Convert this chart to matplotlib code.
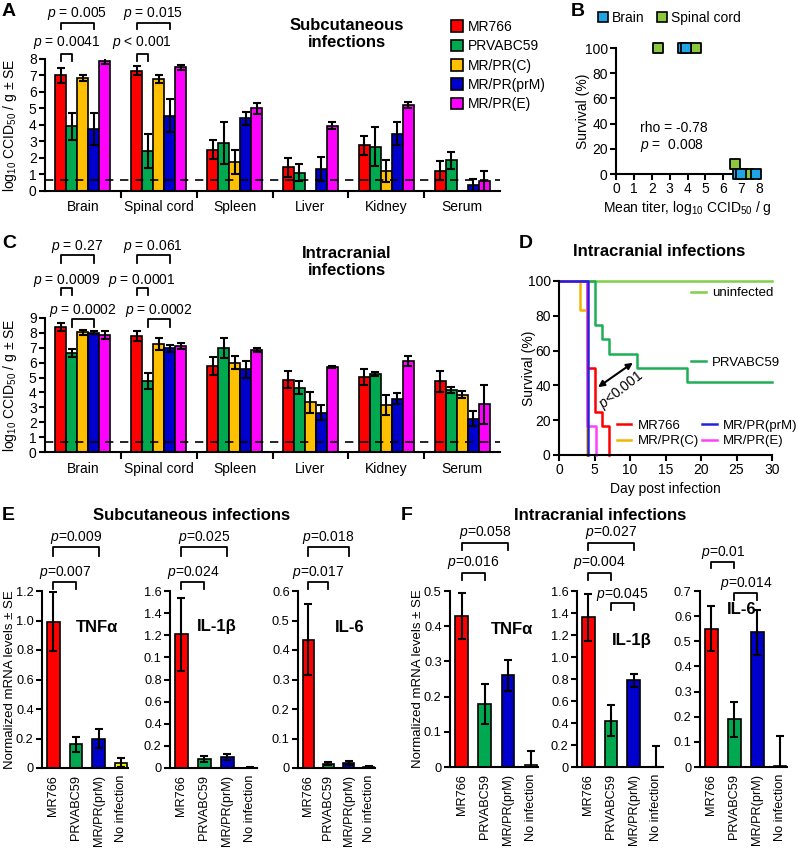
import numpy as np
import matplotlib
matplotlib.use('Agg')
import matplotlib.pyplot as plt
import matplotlib.transforms as mtransforms
from matplotlib.patches import Patch
from matplotlib.lines import Line2D
from matplotlib.legend import Legend

plt.rcParams['font.family'] = ['Liberation Sans', 'DejaVu Sans']
plt.rcParams['mathtext.fontset'] = 'custom'
plt.rcParams['mathtext.rm'] = 'Liberation Sans'
plt.rcParams['mathtext.it'] = 'Liberation Sans:italic'
plt.rcParams['mathtext.bf'] = 'Liberation Sans:bold'
plt.rcParams['mathtext.default'] = 'regular'
plt.rcParams['axes.linewidth'] = 1.5

# ---- data ----
organs = ['Brain', 'Spinal cord', 'Spleen', 'Liver', 'Kidney', 'Serum']
viruses = ['MR766', 'PRVABC59', 'MR/PR(C)', 'MR/PR(prM)', 'MR/PR(E)']
virus_colors = ['#ff0000', '#00a94f', '#ffc000', '#0000cc', '#ff00ff']

# subcutaneous titers (rows: viruses, cols: organs)
sc_mean = [[7.0, 7.3, 2.5, 1.42, 2.76, 1.22],
           [3.9, 2.4, 2.9, 1.1, 2.68, 1.84],
           [6.85, 6.8, 1.75, 0.0, 1.18, 0.0],
           [3.75, 4.55, 4.4, 1.34, 3.46, 0.35],
           [7.9, 7.5, 5.0, 3.94, 5.22, 0.61]]
sc_err = [[0.45, 0.3, 0.6, 0.59, 0.57, 0.6],
          [0.85, 1.05, 1.3, 0.53, 1.18, 0.5],
          [0.2, 0.25, 0.75, 0.0, 0.67, 0.0],
          [0.95, 1.0, 0.4, 0.73, 0.71, 0.35],
          [0.2, 0.15, 0.35, 0.21, 0.17, 0.6]]

# intracranial titers
ic_mean = [[8.35, 7.77, 5.77, 4.86, 5.04, 4.75],
           [6.61, 4.77, 6.95, 4.33, 5.22, 4.15],
           [8.02, 7.24, 5.99, 3.34, 3.17, 3.85],
           [8.0, 6.95, 5.55, 2.65, 3.59, 2.25],
           [7.84, 7.1, 6.84, 5.69, 6.11, 3.2]]
ic_err = [[0.27, 0.33, 0.58, 0.56, 0.55, 0.7],
          [0.27, 0.51, 0.67, 0.44, 0.12, 0.2],
          [0.15, 0.38, 0.45, 0.69, 0.67, 0.25],
          [0.1, 0.22, 0.57, 0.5, 0.35, 0.5],
          [0.26, 0.18, 0.13, 0.06, 0.33, 1.3]]
detection_limit = 0.67

# panel B: titer vs survival
brain_titer = [3.75, 3.9, 6.85, 7.0, 7.85]
brain_surv = [100, 100, 0, 0, 0]
spinal_titer = [2.35, 4.45, 6.65, 7.1, 7.4]
spinal_surv = [100, 100, 8, 0, 0]

# panel D: survival curves
km_uninf_t, km_uninf_s = [0, 30], [100, 100]
km_prv_t = [0, 5, 6, 7, 11, 18, 30]
km_prv_s = [100, 75, 66.7, 58.3, 50, 41.7, 41.7]
km_mr766_t = [0, 4, 5, 6, 7]
km_mr766_s = [100, 50, 25, 16.7, 0]
km_c_t, km_c_s = [0, 3, 3.9], [100, 83.3, 0]
km_e_t, km_e_s = [0, 4.0, 5.2], [100, 16.7, 0]
km_prm_t, km_prm_s = [0, 4.1], [100, 0]

# panels E/F: cytokines
cyto_groups = ['MR766', 'PRVABC59', 'MR/PR(prM)', 'No infection']
cyto_colors = ['#ff0000', '#00a94f', '#0000cc', '#f0f000']
sc_tnf, sc_tnf_err = [0.99, 0.16, 0.2, 0.035], [0.2, 0.05, 0.065, 0.03]
sc_il1b, sc_il1b_err = [1.21, 0.08, 0.1, 0.004], [0.33, 0.03, 0.03, 0.003]
sc_il6, sc_il6_err = [0.435, 0.015, 0.017, 0.004], [0.12, 0.006, 0.008, 0.003]
ic_tnf, ic_tnf_err = [0.43, 0.18, 0.26, 0.005], [0.065, 0.057, 0.045, 0.04]
ic_il1b, ic_il1b_err = [1.36, 0.42, 0.79, 0.0], [0.21, 0.14, 0.06, 0.19]
ic_il6, ic_il6_err = [0.55, 0.19, 0.535, 0.005], [0.09, 0.07, 0.09, 0.12]

W, H = 798, 849
fig = plt.figure(figsize=(W / 100, H / 100), dpi=100)


def add_ax(l, t, r, b):
    return fig.add_axes([l / W, 1 - b / H, (r - l) / W, (b - t) / H])


def ftext(x, y, s, **kw):
    kw.setdefault('ha', 'center')
    kw.setdefault('va', 'center')
    fig.text(x / W, 1 - y / H, s, **kw)


def clean(ax, size=10):
    ax.spines['top'].set_visible(False)
    ax.spines['right'].set_visible(False)
    ax.tick_params(width=1.5, length=4, labelsize=size, pad=2)


def bracket(ax, x1, x2, ytop, yleg, label, ytext, trans=None):
    tr = trans if trans is not None else ax.transData
    ax.plot([x1, x1, x2, x2], [yleg, ytop, ytop, yleg], color='black',
            lw=1.3, transform=tr, clip_on=False)
    ax.text((x1 + x2) / 2, ytext, label, transform=tr, ha='center',
            va='center', fontsize=10, clip_on=False)


w = 0.145


def organ_panel(ax, means, errs, ymax):
    x = np.arange(len(organs))
    for i, (m, e, c) in enumerate(zip(means, errs, virus_colors)):
        pos = x + (i - 2) * w
        m = np.array(m)
        e = np.array(e)
        ax.bar(pos, m, w, color=c, edgecolor='black', linewidth=1.2, zorder=2)
        k = e > 0
        ax.errorbar(pos[k], m[k], yerr=e[k], fmt='none', ecolor='black',
                    elinewidth=1.5, capsize=3, capthick=1.5, zorder=3)
    ax.axhline(detection_limit, color='black', ls=(0, (5, 4)), lw=1.2, zorder=4)
    ax.set_xlim(-0.5, 5.5)
    ax.set_ylim(0, ymax)
    ax.set_yticks(range(ymax + 1))
    ax.set_xticks(x)
    ax.set_xticklabels(organs)
    ax.set_xticks(x[:-1] + 0.5, minor=True)
    clean(ax)
    ax.tick_params(axis='x', which='major', length=0, pad=7)
    ax.tick_params(axis='x', which='minor', length=5, width=1.5)
    ax.set_ylabel('log$_{10}$ CCID$_{50}$ / g ± SE', fontsize=10)
    ax.yaxis.set_label_coords(-0.058, 0.5)


def vpos(organ, virus):
    return organ + (virus - 2) * w


# ---- panel A ----
axA = add_ax(45, 59, 500, 190.7)
organ_panel(axA, sc_mean, sc_err, 8)
bracket(axA, vpos(0, 0), vpos(0, 1), 8.33, 7.85, r'$\mathit{p}$ = 0.0041', 9.0)
bracket(axA, vpos(0, 0), vpos(0, 3), 10.2, 9.85, r'$\mathit{p}$ = 0.005', 10.77)
bracket(axA, vpos(1, 0), vpos(1, 1), 8.33, 7.85, r'$\mathit{p}$ < 0.001', 9.0)
bracket(axA, vpos(1, 0), vpos(1, 3), 10.2, 9.85, r'$\mathit{p}$ = 0.015', 10.77)
ftext(347, 34, 'Subcutaneous\ninfections', fontsize=12, fontweight='bold', linespacing=1.15)
fig.legend(handles=[Patch(facecolor=c, edgecolor='black', lw=1.2) for c in virus_colors],
           labels=viruses, loc='upper left', bbox_to_anchor=(451 / W, 1 - 20 / H),
           frameon=False, fontsize=10, handlelength=0.85, handleheight=0.9,
           handletextpad=0.4, labelspacing=0.38, borderaxespad=0, borderpad=0)

# ---- panel B ----
axB = add_ax(616, 48, 759, 174)
sq = dict(marker='s', s=42, edgecolors='black', linewidths=1.3, clip_on=False, zorder=3)
axB.scatter(spinal_titer, spinal_surv, color='#8dc63f', **sq)
axB.scatter(brain_titer, brain_surv, color='#1fa5e6', **sq)
axB.set_xlim(0, 8)
axB.set_ylim(0, 100)
axB.set_xticks(range(9))
axB.set_yticks(range(0, 101, 20))
clean(axB)
axB.set_xlabel('Mean titer, log$_{10}$ CCID$_{50}$ / g', fontsize=10)
axB.set_ylabel('Survival (%)', fontsize=10)
axB.yaxis.set_label_coords(-0.18, 0.5)
axB.xaxis.set_label_coords(0.5, -0.2)
ftext(640, 128, 'rho = -0.78', fontsize=10, ha='left')
ftext(640, 145, r'$\mathit{p}$ =  0.008', fontsize=10, ha='left')
bleg = [Line2D([], [], marker='s', ls='none', markersize=7, markerfacecolor=c,
               markeredgecolor='black', markeredgewidth=1.2) for c in ['#1fa5e6', '#8dc63f']]
fig.legend(handles=bleg, labels=['Brain', 'Spinal cord'], ncol=2, loc='center left',
           bbox_to_anchor=(597 / W, 1 - 18 / H), frameon=False, fontsize=10,
           handlelength=0.8, handletextpad=0.3, columnspacing=0.8, borderpad=0,
           borderaxespad=0)

# ---- panel C ----
axC = add_ax(45, 317.7, 500, 452.3)
organ_panel(axC, ic_mean, ic_err, 9)
bracket(axC, vpos(0, 0), vpos(0, 3), 13.18, 12.64, r'$\mathit{p}$ = 0.27', 13.75)
bracket(axC, vpos(0, 0), vpos(0, 1), 10.97, 10.5, r'$\mathit{p}$ = 0.0009', 11.5)
bracket(axC, vpos(0, 1), vpos(0, 3), 8.9, 8.4, r'$\mathit{p}$ = 0.0002', 9.45)
bracket(axC, vpos(1, 0), vpos(1, 3), 13.18, 12.64, r'$\mathit{p}$ = 0.061', 13.75)
bracket(axC, vpos(1, 0), vpos(1, 1), 10.97, 10.5, r'$\mathit{p}$ = 0.0001', 11.5)
bracket(axC, vpos(1, 1), vpos(1, 3), 8.9, 8.4, r'$\mathit{p}$ = 0.0002', 9.45)
ftext(347, 262, 'Intracranial\ninfections', fontsize=12, fontweight='bold', linespacing=1.15)

# ---- panel D ----
axD = add_ax(559, 281, 772, 455)
kw = dict(drawstyle='steps-post', lw=1.8, clip_on=False)
l_un, = axD.plot(km_uninf_t, km_uninf_s, color='#7ed048', **kw)
l_prv, = axD.plot(km_prv_t, km_prv_s, color='#1fae55', **kw)
l_mr, = axD.plot(km_mr766_t, km_mr766_s, color='#ff0000', **kw)
l_c, = axD.plot(km_c_t, km_c_s, color='#f5b400', **kw)
l_e, = axD.plot(km_e_t, km_e_s, color='#ff40ff', **kw)
l_prm, = axD.plot(km_prm_t, km_prm_s, color='#2222dd', **kw)
axD.set_xlim(0, 30)
axD.set_ylim(0, 100)
axD.set_xticks(range(0, 31, 5))
axD.set_yticks(range(0, 101, 20))
clean(axD)
axD.set_xlabel('Day post infection', fontsize=10)
axD.set_ylabel('Survival (%)', fontsize=10)
axD.yaxis.set_label_coords(-0.11, 0.5)
axD.xaxis.set_label_coords(0.5, -0.155)
axD.annotate('', xy=(5.5, 39), xytext=(10.4, 53),
             arrowprops=dict(arrowstyle='<|-|>', color='black', lw=1.5,
                             mutation_scale=9, shrinkA=0, shrinkB=0))
axD.text(8.8, 37.5, r'$\mathit{p}$<0.001', rotation=38, ha='center', va='center', fontsize=10)
legkw = dict(frameon=False, fontsize=9.5, handlelength=1.1, handletextpad=0.45,
             borderpad=0, borderaxespad=0, labelspacing=0.25)
for handles, labels, xa, ya in [([l_un], ['uninfected'], 0.622, 0.93),
                                ([l_prv], ['PRVABC59'], 0.622, 0.53),
                                ([l_mr, l_c], ['MR766', 'MR/PR(C)'], 0.272, 0.125),
                                ([l_prm, l_e], ['MR/PR(prM)', 'MR/PR(E)'], 0.672, 0.125)]:
    axD.add_artist(Legend(axD, handles, labels, loc='center left',
                          bbox_to_anchor=(xa, ya), **legkw))
ftext(659, 252, 'Intracranial infections', fontsize=12, fontweight='bold')


# ---- panels E / F ----
def cyto_panel(l, r, top, bottom, means, errs, ymax, step, ticklabels, label_x_coord):
    ax = add_ax(l, top, r, bottom)
    x = np.arange(4)
    means = np.array(means)
    errs = np.array(errs)
    ax.bar(x, means, 0.55, color=cyto_colors, edgecolor='black', linewidth=1.2, zorder=2)
    ax.errorbar(x, means, yerr=[np.minimum(errs, means), errs], fmt='none', ecolor='black',
                elinewidth=1.5, capsize=3, capthick=1.5, zorder=3)
    ax.set_xlim(-0.5, 3.3)
    ax.set_ylim(0, ymax)
    ax.set_yticks(np.arange(0, ymax + step / 2, step))
    ax.set_yticklabels(ticklabels)
    ax.set_xticks(x)
    ax.set_xticklabels(cyto_groups, rotation=90, fontsize=9)
    clean(ax, 9.2)
    ax.tick_params(axis='x', length=0, pad=5)
    if label_x_coord is not None:
        ax.set_ylabel('Normalized mRNA levels ± SE', fontsize=9.5)
        ax.yaxis.set_label_coords(label_x_coord, 0.5)
    return ax


def frac(ax):
    return mtransforms.blended_transform_factory(ax.transData, ax.transAxes)


e1 = cyto_panel(42, 128, 591, 768, sc_tnf, sc_tnf_err, 1.2, 0.2,
                ['0', '0.2', '0.4', '0.6', '0.8', '1.0', '1.2'], -0.305)
e2 = cyto_panel(170, 257, 591, 768, sc_il1b, sc_il1b_err, 1.6, 0.2,
                ['0', '0.2', '0.4', '0.6', '0.8', '0.1', '1.2', '1.4', '1.6'], None)
e3 = cyto_panel(298, 375, 591, 768, sc_il6, sc_il6_err, 0.6, 0.1,
                ['0', '0.1', '0.2', '0.3', '0.4', '0.5', '0.6'], None)
bracket(e1, 0, 1, 1.05, 1.01, r'$\mathit{p}$=0.007', 1.107, trans=frac(e1))
bracket(e1, 0, 2, 1.25, 1.2, r'$\mathit{p}$=0.009', 1.305, trans=frac(e1))
bracket(e2, 0, 1, 1.05, 1.01, r'$\mathit{p}$=0.024', 1.107, trans=frac(e2))
bracket(e2, 0, 2, 1.25, 1.2, r'$\mathit{p}$=0.025', 1.305, trans=frac(e2))
bracket(e3, 0, 1, 1.05, 1.01, r'$\mathit{p}$=0.017', 1.107, trans=frac(e3))
bracket(e3, 0, 2, 1.25, 1.2, r'$\mathit{p}$=0.018', 1.305, trans=frac(e3))
ftext(97, 627, 'TNFα', fontsize=12, fontweight='bold')
ftext(217, 627, 'IL-1β', fontsize=12, fontweight='bold')
ftext(350, 627, 'IL-6', fontsize=12, fontweight='bold')
ftext(192, 515, 'Subcutaneous infections', fontsize=12, fontweight='bold')

f1 = cyto_panel(450, 538, 591, 767, ic_tnf, ic_tnf_err, 0.5, 0.1,
                ['0', '0.1', '0.2', '0.3', '0.4', '0.5'], -0.295)
f2 = cyto_panel(577, 663, 591, 767, ic_il1b, ic_il1b_err, 1.6, 0.2,
                ['0', '0.2', '0.4', '0.6', '0.8', '1.0', '1.2', '1.4', '1.6'], None)
f3 = cyto_panel(700, 787, 591, 767, ic_il6, ic_il6_err, 0.7, 0.1,
                ['0', '0.1', '0.2', '0.3', '0.4', '0.5', '0.6', '0.7'], None)
bracket(f1, 0, 1, 1.10, 1.063, r'$\mathit{p}$=0.016', 1.16, trans=frac(f1))
bracket(f1, 0, 2, 1.273, 1.235, r'$\mathit{p}$=0.058', 1.335, trans=frac(f1))
bracket(f2, 0, 1, 1.10, 1.063, r'$\mathit{p}$=0.004', 1.16, trans=frac(f2))
bracket(f2, 0, 2, 1.273, 1.235, r'$\mathit{p}$=0.027', 1.335, trans=frac(f2))
bracket(f2, 1, 2, 0.932, 0.892, r'$\mathit{p}$=0.045', 0.98, trans=frac(f2))
bracket(f3, 0, 1, 1.165, 1.13, r'$\mathit{p}$=0.01', 1.218, trans=frac(f3))
bracket(f3, 1, 2, 0.99, 0.95, r'$\mathit{p}$=0.014', 1.045, trans=frac(f3))
ftext(512, 630, 'TNFα', fontsize=12, fontweight='bold')
ftext(632, 640, 'IL-1β', fontsize=12, fontweight='bold')
ftext(742, 610, 'IL-6', fontsize=12, fontweight='bold')
ftext(600, 515, 'Intracranial infections', fontsize=12, fontweight='bold')

# panel letters
for s, x, y in [('A', 9, 11), ('B', 578, 11), ('C', 9, 243), ('D', 526, 244),
                ('E', 8, 515), ('F', 407, 515)]:
    ftext(x, y, s, fontsize=14, fontweight='bold')

fig.savefig('out.png', dpi=100)
